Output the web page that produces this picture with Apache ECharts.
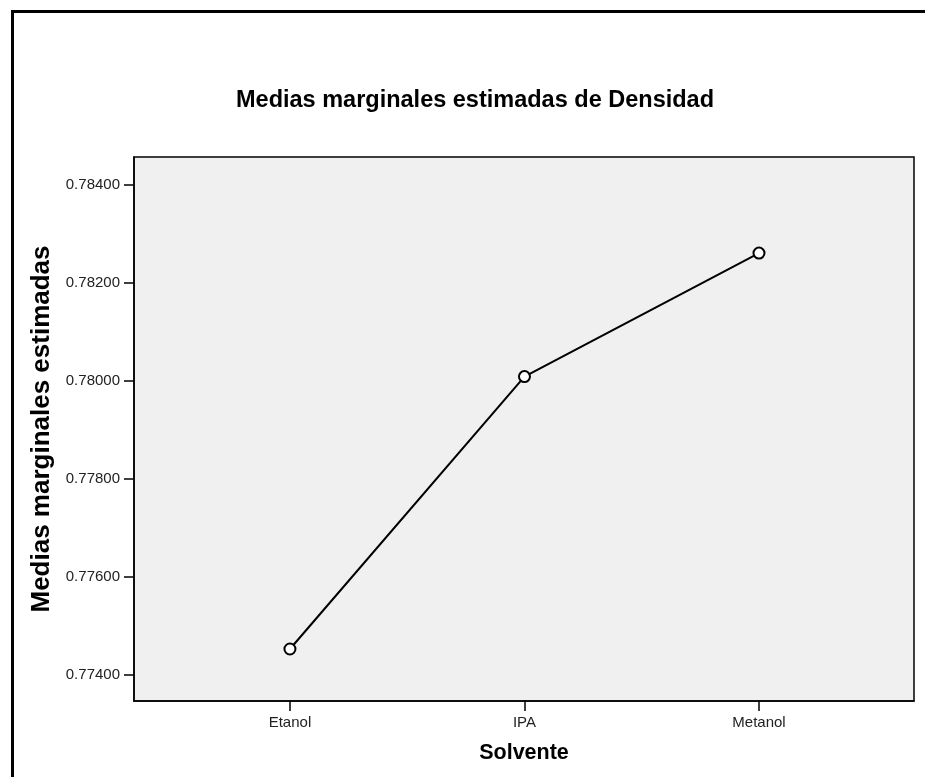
<!DOCTYPE html>
<html>
<head>
<meta charset="utf-8">
<script src="https://cdn.jsdelivr.net/npm/echarts@6/dist/echarts.min.js"></script>
<style>
  html, body { margin: 0; padding: 0; background: #fff; }
  #chart { width: 925px; height: 777px; }
</style>
</head>
<body>
<div id="chart"></div>
<script>
// datos
const solventes = ["Etanol", "IPA", "Metanol"]
const medias = [0.77453, 0.78009, 0.78261]
const yTicks = [0.774, 0.776, 0.778, 0.780, 0.782, 0.784]

const font = "Arial, 'Liberation Sans', sans-serif"

const chart = echarts.init(document.getElementById("chart"))

const option = {
  backgroundColor: "#fff",
  animation: false,
  title: {
    text: "Medias marginales estimadas de Densidad",
    left: 470,
    top: 84,
    textAlign: "center",
    textStyle: { fontFamily: font, fontSize: 23.5, fontWeight: "bold", color: "#000" }
  },
  graphic: [
    {
      type: "rect",
      left: 10,
      top: 9,
      shape: { width: 1000, height: 1000 },
      style: { fill: "none", stroke: "#000", lineWidth: 3 },
      silent: true
    }
  ],
  grid: {
    left: 134,
    top: 157,
    right: 11,
    bottom: 76,
    show: true,
    backgroundColor: "#f0f0f0",
    borderColor: "#000",
    borderWidth: 1.5
  },
  xAxis: {
    type: "value",
    min: -0.665,
    max: 2.661,
    name: "Solvente",
    nameLocation: "middle",
    nameGap: 41,
    nameTextStyle: { fontFamily: font, fontSize: 21.5, fontWeight: "bold", color: "#000" },
    splitLine: { show: false },
    axisLine: { show: true, onZero: false, lineStyle: { color: "#000", width: 1.5 } },
    axisTick: {
      show: true,
      customValues: [0, 1, 2],
      length: 10,
      lineStyle: { color: "#000", width: 1.5 }
    },
    axisLabel: {
      customValues: [0, 1, 2],
      formatter: function (v) { return solventes[Math.round(v)] },
      fontFamily: font,
      fontSize: 15,
      color: "#222",
      margin: 14
    }
  },
  yAxis: {
    type: "value",
    min: 0.773469,
    max: 0.784571,
    name: "Medias marginales estimadas",
    nameLocation: "middle",
    nameGap: 73,
    nameTextStyle: { fontFamily: font, fontSize: 26, fontWeight: "bold", color: "#000" },
    splitLine: { show: false },
    axisLine: { show: true, onZero: false, lineStyle: { color: "#000", width: 1.5 } },
    axisTick: {
      show: true,
      customValues: yTicks,
      length: 10,
      lineStyle: { color: "#000", width: 1.5 }
    },
    axisLabel: {
      customValues: yTicks,
      formatter: function (v) { return v.toFixed(5) },
      fontFamily: font,
      fontSize: 15,
      color: "#222",
      margin: 14
    }
  },
  series: [
    {
      type: "line",
      data: medias.map((v, i) => [i, v]),
      symbol: "emptyCircle",
      symbolSize: 11,
      lineStyle: { color: "#000", width: 2 },
      itemStyle: { color: "#000", borderColor: "#000", borderWidth: 1.5 }
    }
  ]
}

chart.setOption(option)
</script>
</body>
</html>
